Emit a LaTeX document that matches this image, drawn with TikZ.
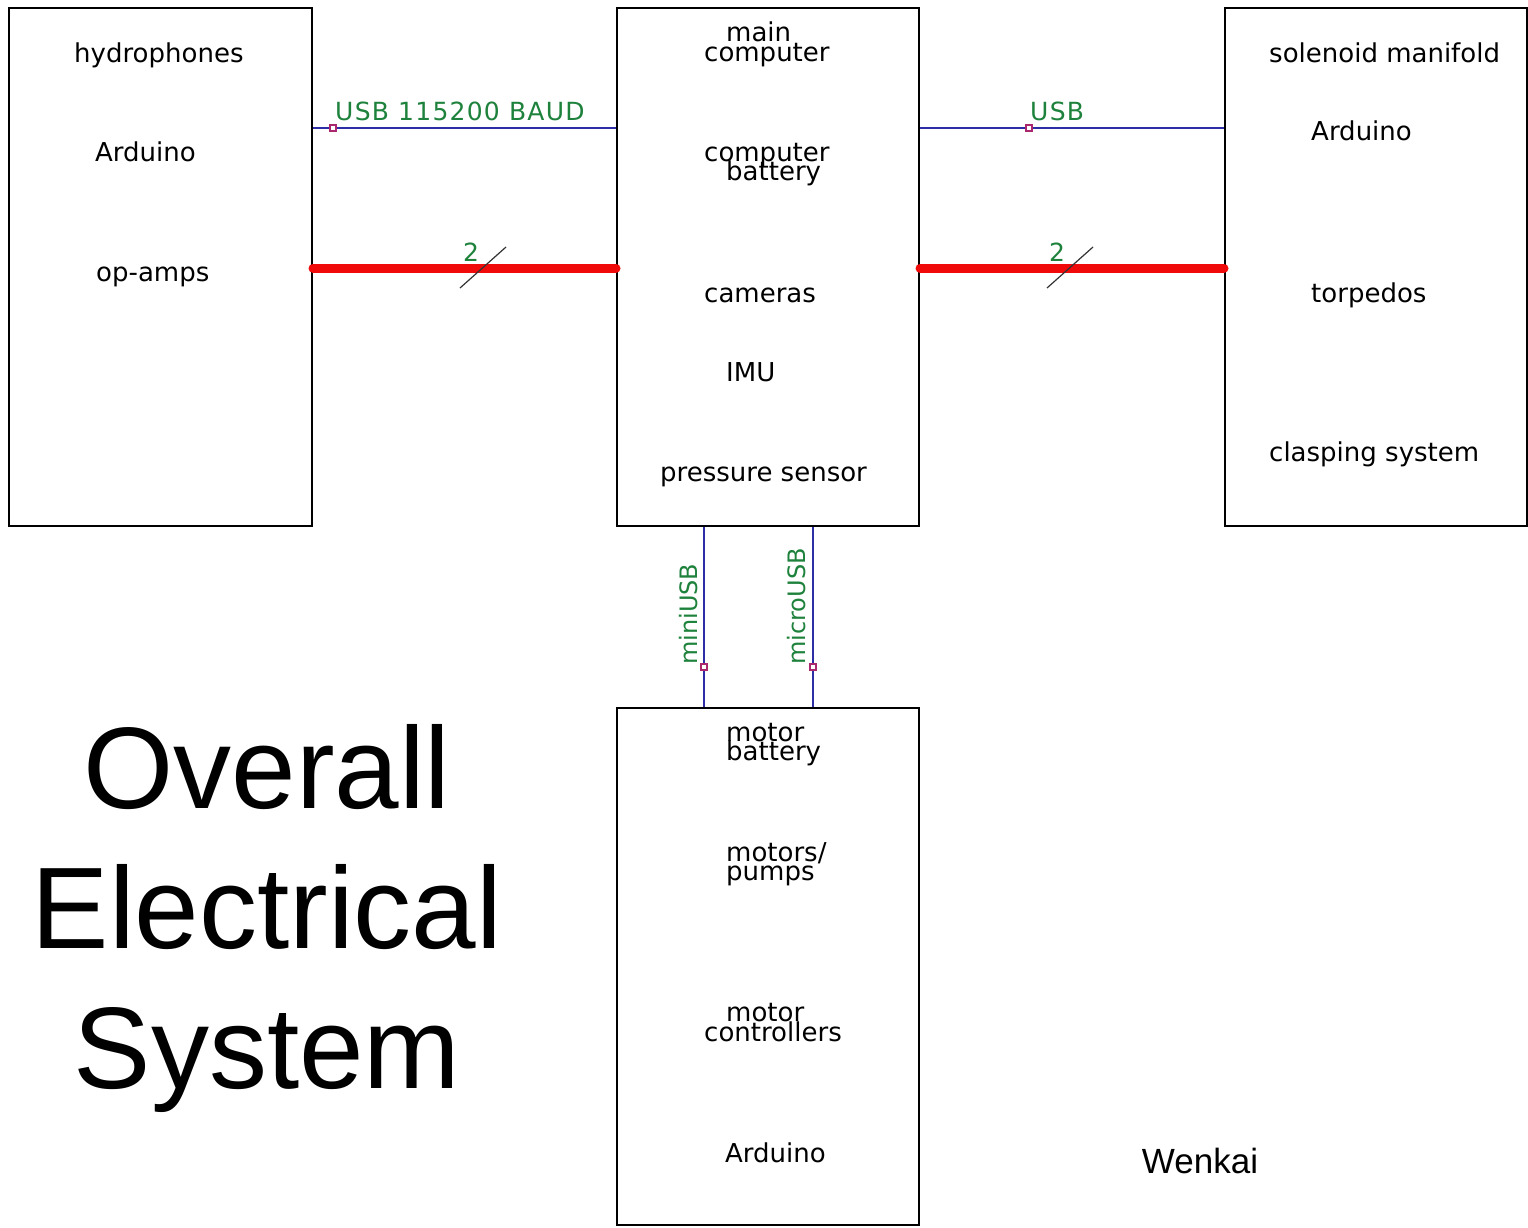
\documentclass[tikz,border=0pt]{standalone}
\usepackage{fontspec}
\setmainfont{Liberation Sans}
\newfontfamily\schfont{DejaVu Sans}
\newfontfamily\grnfont[LetterSpace=5]{DejaVu Sans}
\usetikzlibrary{calc}
\definecolor{wireblue}{RGB}{45,45,165}
\definecolor{lblgreen}{RGB}{30,130,60}
\definecolor{pinmag}{RGB}{170,40,110}
\definecolor{busred}{RGB}{240,10,10}
\begin{document}
\begin{tikzpicture}[x=1pt,y=-1pt,
  box/.style={draw=black, line width=2pt, rectangle, inner sep=0pt},
  lbl/.style={anchor=base west, inner sep=0pt, font=\schfont\fontsize{26}{26}\selectfont, text=black},
  glbl/.style={anchor=base west, inner sep=0pt, font=\grnfont\fontsize{25}{25}\selectfont, text=lblgreen},
  vlbl/.style={anchor=base west, inner sep=0pt, rotate=90, font=\schfont\fontsize{24}{24}\selectfont, text=lblgreen},
  numlbl/.style={anchor=base, inner sep=0pt, font=\schfont\fontsize{25}{25}\selectfont, text=lblgreen},
  wire/.style={draw=wireblue, line width=1.8pt},
  bus/.style={draw=busred, line width=9pt, line cap=round},
  pin/.style={draw=pinmag, fill=white, line width=1.2pt, rectangle, minimum size=6pt, inner sep=0pt},
  slash/.style={draw=black!80, line width=1.2pt},
  title/.style={inner sep=0pt, anchor=base, font=\fontsize{116}{140}\selectfont}
]
\fill[white] (0,0) rectangle (1528,1227);
\useasboundingbox (0,0) rectangle (1528,1227);

% boxes
\node[box, minimum width=303pt, minimum height=518pt] (L) at (160.5,267) {};
\node[box, minimum width=302pt, minimum height=518pt] (C) at (768,267) {};
\node[box, minimum width=302pt, minimum height=518pt] (R) at (1376,267) {};
\node[box, minimum width=302pt, minimum height=517pt] (B) at (768,966.5) {};

% helper coordinates
\coordinate (uy) at (0,128);
\coordinate (by) at (0,268);
\coordinate (mx) at (704,0);
\coordinate (ux) at (813,0);

% connectors
\draw[wire] (L.east |- uy) -- (C.west |- uy);
\draw[wire] (C.east |- uy) -- (R.west |- uy);
\draw[bus] (L.east |- by) -- (C.west |- by);
\draw[bus] (C.east |- by) -- (R.west |- by);
\draw[wire] (C.south -| mx) -- (B.north -| mx);
\draw[wire] (C.south -| ux) -- (B.north -| ux);

% bus slashes
\draw[slash] (460,288) -- (506,247);
\draw[slash] (1047,288) -- (1093,247);
\node[numlbl] (n1) at (471,261) {2};
\node[numlbl] (n2) at (1057,261) {2};

% pins
\node[pin] (p1) at (333,128) {};
\node[pin] (p2) at (1029,128) {};
\node[pin] (p3) at (704,667) {};
\node[pin] (p4) at (813,667) {};

% connector labels
\node[glbl] (l1) at (335,120) {USB 115200 BAUD};
\node[glbl] (l2) at (1030,120) {USB};
\node[vlbl] (l3) at (697,665) {miniUSB};
\node[vlbl] (l4) at (805,665) {microUSB};

% left box
\node[lbl] (t1) at (74,62) {hydrophones};
\node[lbl] (t2) at (95,161) {Arduino};
\node[lbl] (t3) at (96,281) {op-amps};

% center box
\node[lbl] (c1) at (726,41) {main};
\node[lbl] (c2) at (704,61) {computer};
\node[lbl] (c3) at (704,161) {computer};
\node[lbl] (c4) at (726,180) {battery};
\node[lbl] (c5) at (704,302) {cameras};
\node[lbl] (c6) at (726,381) {IMU};
\node[lbl] (c7) at (660,481) {pressure sensor};

% right box
\node[lbl] (r1) at (1269,62) {solenoid manifold};
\node[lbl] (r2) at (1311,140) {Arduino};
\node[lbl] (r3) at (1311,302) {torpedos};
\node[lbl] (r4) at (1269,461) {clasping system};

% bottom box
\node[lbl] (b1) at (726,741) {motor};
\node[lbl] (b2) at (726,760) {battery};
\node[lbl] (b3) at (726,861) {motors/};
\node[lbl] (b4) at (726,880) {pumps};
\node[lbl] (b5) at (726,1021) {motor};
\node[lbl] (b6) at (704,1041) {controllers};
\node[lbl] (b7) at (725,1162) {Arduino};

% title
\node[title] (h1) at (267,808) {Overall};
\node[title] (h2) at (267,948) {Electrical};
\node[title] (h3) at (267,1088) {System};

\node[inner sep=0pt, anchor=base, font=\fontsize{35}{35}\selectfont] (w) at (1200,1173) {Wenkai};
\end{tikzpicture}
\end{document}
